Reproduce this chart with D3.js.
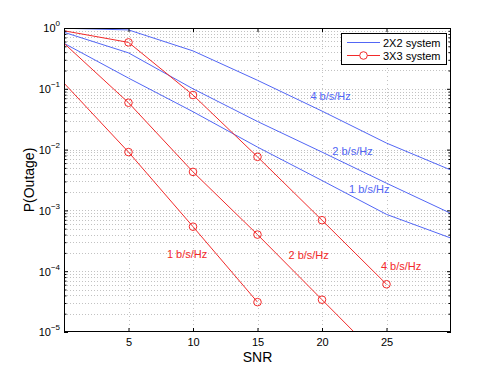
<!DOCTYPE html>
<html>
<head>
<meta charset="utf-8">
<script src="https://cdn.jsdelivr.net/npm/d3@7"></script>
<style>
  body { margin: 0; background: #fff; }
  text { font-family: "Liberation Sans", Arial, sans-serif; }
</style>
</head>
<body>
<svg id="chart" width="498" height="375"></svg>
<script>
// SNR points shared by all curves
const snr = [0, 5, 10, 15, 20, 25, 30];

// 2X2 system (blue)
const blue1 = [0.56, 0.15, 0.042, 0.011, 0.0031, 0.00086, 0.00035];
const blue2 = [0.85, 0.39, 0.10, 0.029, 0.0091, 0.0028, 0.00089];
const blue4 = [0.99, 0.93, 0.42, 0.138, 0.043, 0.0128, 0.0046];

// 3X3 system (red)
const red1 = [0.124, 0.0091, 0.00054, 0.000031];
const red2 = [0.56, 0.059, 0.0043, 0.0004, 0.000034, 0.0000029];
const red4 = [0.9, 0.58, 0.079, 0.0076, 0.00069, 0.000061];

// rate annotations: [text, snr, p]
const blueNotes = [['4 b/s/Hz', 19.1, 0.0655], ['2 b/s/Hz', 20.8, 0.0081], ['1 b/s/Hz', 22.1, 0.0019]];
const redNotes = [['1 b/s/Hz', 7.98, 0.000168], ['2 b/s/Hz', 17.4, 0.00016], ['4 b/s/Hz', 24.57, 0.000105]];

const xTicks = [5, 10, 15, 20, 25];
const yMajor = [1e-5, 1e-4, 1e-3, 1e-2, 1e-1, 1];

const BLUE = '#5266f5';
const RED = '#f22a2a';

const svg = d3.select('#chart');
const pl = 64, pr = 451, pt = 28, pb = 332;

const x = d3.scaleLinear().domain([0, 30]).range([pl, pr]);
const y = d3.scaleLog().domain([1e-5, 1]).range([pb, pt]);

let yMinor = [];
for (let k = -5; k < 0; k++) {
  for (let m = 2; m <= 9; m++) yMinor.push(m * Math.pow(10, k));
}

// grid
const grid = svg.append('g')
  .attr('stroke', '#c2c2c2')
  .attr('stroke-width', 1);

grid.selectAll('line.h')
  .data(yMinor.concat(yMajor.slice(1, -1)))
  .join('line')
  .attr('stroke-dasharray', '1,2')
  .attr('x1', pl).attr('x2', pr)
  .attr('y1', (d) => Math.round(y(d)) + 0.5)
  .attr('y2', (d) => Math.round(y(d)) + 0.5);

grid.selectAll('line.v')
  .data(xTicks)
  .join('line')
  .attr('stroke-dasharray', '1,3')
  .attr('y1', pt).attr('y2', pb)
  .attr('x1', (d) => Math.round(x(d)) + 0.5)
  .attr('x2', (d) => Math.round(x(d)) + 0.5);

// clip
svg.append('clipPath').attr('id', 'plot')
  .append('rect')
  .attr('x', pl).attr('y', pt)
  .attr('width', pr - pl).attr('height', pb - pt);

const line = d3.line()
  .x((d) => x(d[0]))
  .y((d) => y(d[1]));

const curves = svg.append('g').attr('clip-path', 'url(#plot)');

[blue1, blue2, blue4].forEach((vals) => {
  curves.append('path')
    .attr('d', line(vals.map((v, i) => [snr[i], v])))
    .attr('fill', 'none')
    .attr('stroke', BLUE)
    .attr('stroke-width', 1);
});

[red1, red2, red4].forEach((vals) => {
  const pts = vals.map((v, i) => [snr[i], v]);
  curves.append('path')
    .attr('d', line(pts))
    .attr('fill', 'none')
    .attr('stroke', RED)
    .attr('stroke-width', 1);
  curves.selectAll(null)
    .data(pts.filter((p) => p[0] > 0 && p[1] >= 1e-5))
    .join('circle')
    .attr('cx', (d) => x(d[0]))
    .attr('cy', (d) => y(d[1]))
    .attr('r', 3.8)
    .attr('fill', 'none')
    .attr('stroke', RED)
    .attr('stroke-width', 1);
});

// annotations
svg.selectAll('text.bnote')
  .data(blueNotes)
  .join('text')
  .attr('x', (d) => x(d[1]))
  .attr('y', (d) => y(d[2]))
  .attr('fill', BLUE)
  .attr('font-size', 11)
  .text((d) => d[0]);

svg.selectAll('text.rnote')
  .data(redNotes)
  .join('text')
  .attr('x', (d) => x(d[1]))
  .attr('y', (d) => y(d[2]))
  .attr('fill', RED)
  .attr('font-size', 11)
  .text((d) => d[0]);

// axes (ticks pointing inward, MATLAB box style)
function styleAxis(g) {
  g.select('.domain').remove();
  g.selectAll('.tick line').attr('stroke', '#000');
}

svg.append('g')
  .attr('transform', `translate(0,${pb})`)
  .call(d3.axisBottom(x).tickValues(xTicks).tickSize(-4).tickSizeOuter(0).tickPadding(6))
  .call(styleAxis)
  .call((g) => g.selectAll('.tick text').attr('font-size', 11).attr('font-family', null).attr('fill', '#000'));

svg.append('g')
  .attr('transform', `translate(0,${pt})`)
  .call(d3.axisTop(x).tickValues(xTicks).tickSize(-4).tickSizeOuter(0).tickFormat(''))
  .call(styleAxis);

svg.append('g')
  .attr('transform', `translate(${pl},0)`)
  .call(d3.axisLeft(y).tickValues(yMajor).tickSize(-4).tickSizeOuter(0).tickPadding(4).tickFormat(''))
  .call(styleAxis)
  .call((g) => g.selectAll('.tick text').each(function (d) {
    const t = d3.select(this)
      .attr('font-size', 11)
      .attr('font-family', null)
      .attr('fill', '#000')
      .attr('dy', '0.36em');
    t.append('tspan').text('10');
    t.append('tspan')
      .attr('font-size', 8)
      .attr('dy', '-0.75em')
      .text(String(Math.round(Math.log10(d))).replace('-', '\u2212'));
  }));

svg.append('g')
  .attr('transform', `translate(${pl},0)`)
  .call(d3.axisLeft(y).tickValues(yMinor).tickSize(-2.5).tickSizeOuter(0).tickFormat(''))
  .call(styleAxis);

svg.append('g')
  .attr('transform', `translate(${pr},0)`)
  .call(d3.axisRight(y).tickValues(yMajor).tickSize(-4).tickSizeOuter(0).tickFormat(''))
  .call(styleAxis);

svg.append('g')
  .attr('transform', `translate(${pr},0)`)
  .call(d3.axisRight(y).tickValues(yMinor).tickSize(-2.5).tickSizeOuter(0).tickFormat(''))
  .call(styleAxis);

// box
svg.append('rect')
  .attr('x', pl + 0.5).attr('y', pt + 0.5)
  .attr('width', pr - pl - 1).attr('height', pb - pt - 1)
  .attr('fill', 'none')
  .attr('stroke', '#000')
  .attr('stroke-width', 1);

// axis labels
svg.append('text')
  .attr('x', (pl + pr) / 2)
  .attr('y', 362)
  .attr('text-anchor', 'middle')
  .attr('font-size', 14)
  .text('SNR');

svg.append('text')
  .attr('transform', `translate(34,${(pt + pb) / 2}) rotate(-90)`)
  .attr('text-anchor', 'middle')
  .attr('font-size', 14)
  .text('P(Outage)');

// legend
const legend = svg.append('g').attr('transform', 'translate(341,33)');
legend.append('rect')
  .attr('x', 0.5).attr('y', 0.5)
  .attr('width', 105).attr('height', 31)
  .attr('fill', '#fff')
  .attr('stroke', '#000');

const items = [['2X2 system', BLUE, false], ['3X3 system', RED, true]];
items.forEach(([label, color, marker], i) => {
  const ly = 9.5 + i * 13;
  legend.append('line')
    .attr('x1', 6).attr('x2', 39)
    .attr('y1', ly).attr('y2', ly)
    .attr('stroke', color);
  if (marker) {
    legend.append('circle')
      .attr('cx', 22.5).attr('cy', ly).attr('r', 3.8)
      .attr('fill', '#fff')
      .attr('stroke', color);
  }
  legend.append('text')
    .attr('x', 42)
    .attr('y', ly + 4)
    .attr('font-size', 11)
    .text(label);
});
</script>
</body>
</html>
